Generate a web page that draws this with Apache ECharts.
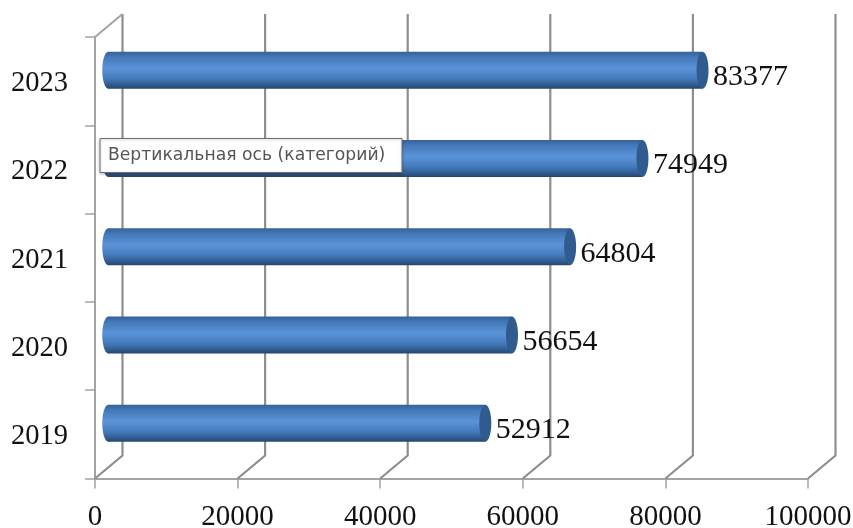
<!DOCTYPE html>
<html>
<head>
<meta charset="utf-8">
<script src="https://cdn.jsdelivr.net/npm/echarts@6/dist/echarts.min.js"></script>
<style>html,body{margin:0;padding:0;background:#fff}#c{width:853px;height:528px;filter:blur(0.45px)}</style>
</head>
<body>
<div id="c"></div>
<script>
const categories = ['2019', '2020', '2021', '2022', '2023'];
const values = [52912, 56654, 64804, 74949, 83377];
const xTicks = [0, 20000, 40000, 60000, 80000, 100000];
const axisTitle = 'Вертикальная ось (категорий)';

const DEPTH_X = 27.5, DEPTH_Y = 23;
const BAR_H = 37, CAP_RX = 6;
const AXIS = '#a3a3a3', WALL = '#8e8e8e';
const TEXT = '#111';
const SERIF = '"Liberation Serif","Times New Roman",serif';

const chart = echarts.init(document.getElementById('c'), null, {renderer: 'canvas'});

function renderWall(params, api) {
  const v = api.value(0);
  const p = api.coord([v, 0]);
  const cs = params.coordSys;
  const x = p[0], bottom = cs.y + cs.height, top = cs.y;
  const children = [{
    type: 'polyline',
    shape: {points: [[x, bottom], [x + DEPTH_X, bottom - DEPTH_Y], [x + DEPTH_X, top - DEPTH_Y]]},
    style: {stroke: WALL, lineWidth: 2.2, fill: null}
  }];
  if (v === 0) {
    children.push({
      type: 'line',
      shape: {x1: x, y1: top, x2: x + DEPTH_X, y2: top - DEPTH_Y},
      style: {stroke: AXIS, lineWidth: 2}
    });
  }
  return {type: 'group', children};
}

function renderBar(params, api) {
  const start = api.coord([0, api.value(1)]);
  const end = api.coord([api.value(0), api.value(1)]);
  const x0 = start[0] + DEPTH_X / 2 - 0.5, x1 = end[0] + DEPTH_X / 2 - 0.7, cy = start[1] - DEPTH_Y / 2 + 0.5;
  const top = cy - BAR_H / 2;
  const grad = new echarts.graphic.LinearGradient(0, 0, 0, 1, [
    {offset: 0, color: '#34619a'},
    {offset: 0.14, color: '#4478b8'},
    {offset: 0.45, color: '#5a94d8'},
    {offset: 0.72, color: '#457bbb'},
    {offset: 0.92, color: '#2d5789'},
    {offset: 1, color: '#234569'}
  ]);
  return {
    type: 'group',
    children: [
      {type: 'ellipse', shape: {cx: x0, cy, rx: CAP_RX, ry: BAR_H / 2}, style: {fill: grad}},
      {type: 'rect', shape: {x: x0, y: top, width: x1 - x0, height: BAR_H}, style: {fill: grad}},
      {type: 'ellipse', shape: {cx: x1, cy, rx: CAP_RX, ry: BAR_H / 2}, style: {fill: '#2f5b8f'}},
      {type: 'text', x: x1 + CAP_RX + 4.5, y: cy + 7, style: {
        text: String(api.value(0)), font: '30px ' + SERIF, fill: TEXT,
        verticalAlign: 'middle', align: 'left'
      }}
    ]
  };
}

chart.setOption({
  animation: false,
  grid: {left: 95, right: 45, top: 37, bottom: 49.5, containLabel: false, outerBoundsMode: 'none'},
  xAxis: {
    type: 'value', min: 0, max: 100000, interval: 20000,
    axisLine: {show: true, lineStyle: {color: AXIS, width: 2}},
    axisTick: {show: true, length: 10, lineStyle: {color: AXIS, width: 1.5}},
    splitLine: {show: false},
    axisLabel: {
      margin: 24, fontFamily: SERIF, fontSize: 29, color: TEXT,
      formatter: v => String(v)
    }
  },
  yAxis: {
    type: 'category', data: categories,
    axisLine: {show: true, lineStyle: {color: AXIS, width: 2}},
    axisTick: {show: true, length: 10, lineStyle: {color: AXIS, width: 1.5}},
    splitLine: {show: false},
    axisLabel: {
      margin: 27, fontFamily: SERIF, fontSize: 28.5, color: TEXT,
      formatter: v => '{y|' + v + '}',
      rich: {y: {fontFamily: SERIF, fontSize: 28.5, color: TEXT, padding: [5, 0, 0, 0]}}
    }
  },
  series: [
    {
      type: 'custom', silent: true, z: 1,
      data: xTicks.map(v => [v]),
      encode: {x: 0},
      renderItem: renderWall
    },
    {
      type: 'custom', silent: true, z: 3,
      data: values.map((v, i) => [v, i]),
      encode: {x: 0, y: 1},
      renderItem: renderBar
    }
  ],
  graphic: [
    {type: 'rect', zlevel: 2, z: 100, shape: {x: 100, y: 138.5, width: 302, height: 34},
     style: {fill: '#fff', stroke: '#6e6e6e', lineWidth: 1, shadowColor: 'rgba(0,0,0,0.25)', shadowBlur: 3, shadowOffsetY: 1}},
    {type: 'text', zlevel: 2, z: 101, x: 108, y: 156, style: {
      text: axisTitle, font: '17.2px "DejaVu Sans",sans-serif', fill: '#555',
      verticalAlign: 'middle', align: 'left'
    }}
  ]
});
</script>
</body>
</html>
